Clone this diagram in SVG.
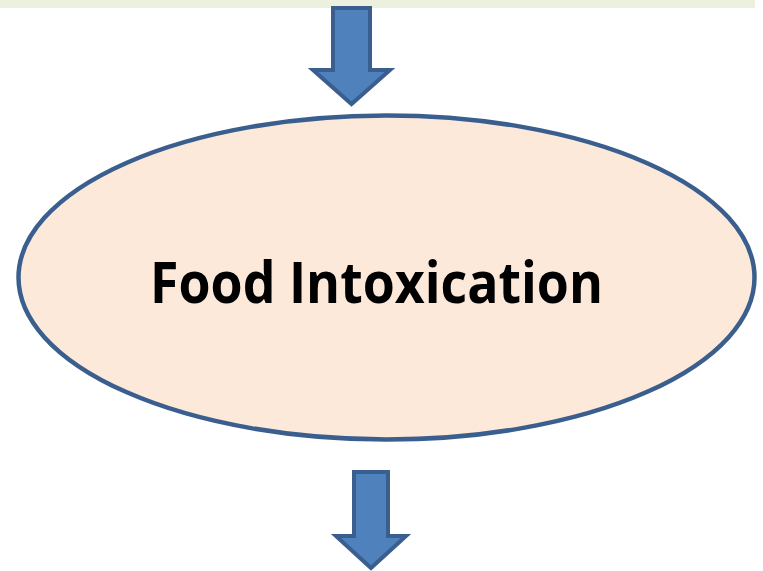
<svg xmlns="http://www.w3.org/2000/svg" width="763" height="571" viewBox="0 0 763 571">
<style>
.arrow{fill:#4F81BD;stroke:#3A5F8F;stroke-width:4;stroke-linejoin:miter}
.node{fill:#FDE9DA;stroke:#3A5F8F;stroke-width:4.5}
.label{font-family:"Open Sans","Liberation Sans",sans-serif;font-weight:bold;font-size:57px;fill:#000}
</style>
<rect x="0" y="0" width="755" height="8" fill="#EBF0DF"/>
<g id="connectors">
<polygon class="arrow" points="333,8 370,8 370,70 390,70 351.5,104 313,70 333,70"/>
<polygon class="arrow" points="354,472 388,472 388,536 406,536 371,568 336,536 354,536"/>
</g>
<g id="food-intoxication">
<ellipse class="node" cx="386.5" cy="277.5" rx="368" ry="162"/>
<text class="label" x="376.5" y="303" text-anchor="middle" textLength="453" lengthAdjust="spacingAndGlyphs">Food Intoxication</text>
</g>
</svg>
